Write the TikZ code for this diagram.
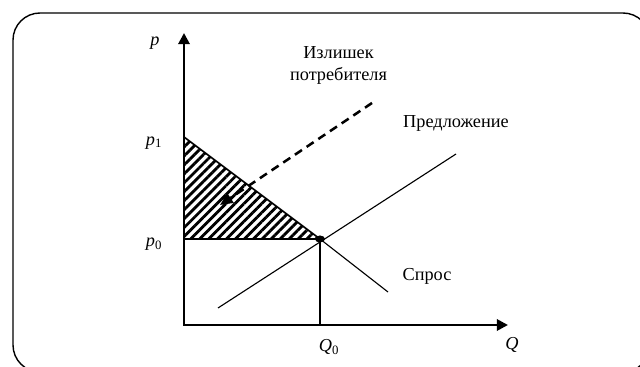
\documentclass[tikz,border=0pt]{standalone}
\usepackage{fontspec}
\setmainfont{Liberation Serif}
\usetikzlibrary{arrows.meta, patterns.meta, positioning}

\begin{document}
\begin{tikzpicture}[
    x=0.025cm, y=-0.025cm,
    font=\fontsize{13}{15}\selectfont,
    axis/.style={line width=2pt, {Triangle[length=8pt, width=8pt]}-{Triangle[length=8pt, width=8pt]}},
    curve/.style={line width=0.8pt},
    tag/.style={inner sep=0pt},
    hatch/.style={pattern={Lines[angle=45, distance=4.5pt, line width=2pt]}}
]
\useasboundingbox (0,0) rectangle (640,367);
\clip (0,0) rectangle (640,367);
% Frame
\draw[line width=1pt, rounded corners=0.675cm] (13,13) rectangle (650,372);
% Points
\coordinate (O) at (184,325);
\coordinate (P1) at (184,137);
\coordinate (P0) at (184,239);
\coordinate (E) at (320,239);
\coordinate (Q0) at (320,325);
\coordinate (Ytop) at (184,33);
\coordinate (Xend) at (508,325);
\coordinate (D2) at (388,292);
\coordinate (S1) at (218,308);
\coordinate (S2) at (456,154);
\coordinate (A1) at (372,103);
\coordinate (A2) at (220,205);
% Consumer surplus
\fill[hatch] (P1) -- (E) -- (P0) -- cycle;
\draw[line width=1.2pt] (P1) -- (E);
\draw[line width=2pt] (P0) -- (E);
% Demand and supply
\draw[curve] (E) -- (D2);
\draw[curve] (S1) -- (S2);
\draw[curve] (E) -- (Q0);
% Axes
\draw[axis] (Ytop) -- (O) -- (Xend);
\fill (E) ellipse [x radius=5, y radius=3.5];
% Pointer
\draw[line width=1.8pt, dash pattern=on 6pt off 4pt, -{Triangle[length=9pt, width=8pt]}] (A1) -- (A2);
% Labels
\node[tag] (plab) at (155,43) {\textit{p}};
\node[tag] (p1lab) at (154,143) {\textit{p}\textsubscript{1}};
\node[tag] (p0lab) at (154,244) {\textit{p}\textsubscript{0}};
\node[tag] (q0lab) at (329,347) {\textit{Q}\textsubscript{0}};
\node[tag] (qlab) at (512,345) {\textit{Q}};
\node[tag, align=center] (surplus) at (338.5,65.5) {Излишек\\потребителя};
\node[tag] (supply) at (456,123) {Предложение};
\node[tag] (demand) at (427,276) {Спрос};
\end{tikzpicture}
\end{document}
